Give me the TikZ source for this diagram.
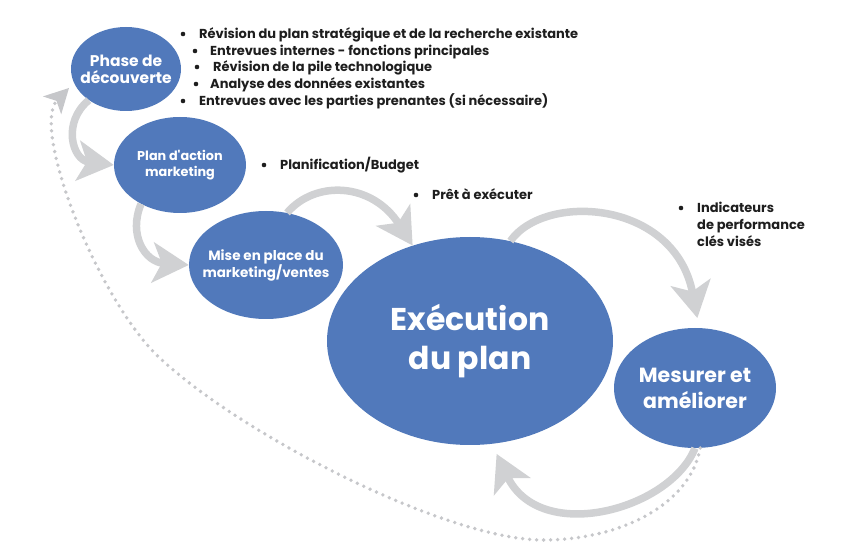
\documentclass[tikz,border=0pt]{standalone}
\usepackage{fontspec}
\setmainfont{Poppins}[Ligatures=TeXOff]
\usetikzlibrary{arrows.meta,shapes.geometric}
\definecolor{nodeblue}{RGB}{81,121,187}
\definecolor{arrowgray}{RGB}{208,209,211}
\definecolor{dotgray}{RGB}{198,199,202}
\definecolor{txt}{RGB}{30,30,30}
\begin{document}
\begin{tikzpicture}[x=1pt,y=-1pt,
 stage/.style={ellipse, fill=nodeblue, inner sep=-15pt, text=white, align=center},
 flow/.style={draw=arrowgray, line width=7.5pt, -{Stealth[length=36pt,width=40pt,inset=9pt]}},
 loopback/.style={draw=dotgray, line width=3.8pt, line cap=round, dash pattern=on 0pt off 7pt, -{Stealth[length=24pt,width=25pt,inset=6pt]}},
 item/.style={anchor=base west, text=txt, font=\fontsize{13}{17}\selectfont\bfseries, inner sep=0pt, align=left},
 dot/.style={fill=txt}
]
\useasboundingbox (0,0) rectangle (847,553);

% stages
\node[stage, minimum width=110pt, minimum height=84pt, font=\fontsize{15.5}{17}\selectfont\bfseries] (p1) at (126,69) {Phase de\\découverte};
\node[stage, minimum width=132pt, minimum height=96pt, font=\fontsize{12.8}{15.5}\selectfont\bfseries] (p2) at (180,165) {Plan d'action\\marketing};
\node[stage, minimum width=154pt, minimum height=108pt, font=\fontsize{13.5}{17}\selectfont\bfseries] (p3) at (266,265) {Mise en place du\\marketing/ventes};
\node[stage, minimum width=286pt, minimum height=208pt, font=\fontsize{31.5}{39}\selectfont\bfseries] (p4) at (470,341) {Exécution\\du plan};
\node[stage, minimum width=162pt, minimum height=120pt, font=\fontsize{20.5}{26}\selectfont\bfseries] (p5) at (695,388) {Mesurer et\\améliorer};

% flow arrows
\draw[flow] (p1.220) .. controls (62,122) and (72,160) .. (p2.west);
\draw[flow] (p2.225) .. controls (128,235) and (145,262) .. (p3.west);
\draw[flow] (p3.68) .. controls (315,180) and (372,182) .. (p4.121);
\draw[flow, shorten >=10pt] (p4.68) .. controls (545,192) and (675,200) .. (p5.86);
\draw[flow, shorten >=11pt] (p5.south) .. controls (670,510) and (540,545) .. (p4.-78);

% dotted loop back
\draw[loopback, shorten >=7pt] (p5.-85) .. controls (690,505) and (620,540) .. (543,540)
  .. controls (450,540) and (250,440) .. (163,361)
  .. controls (100,306) and (30,128) .. (p1.195);

% bullet lists
\fill[dot] (183,34) circle (2.3pt);
\node[item] (b1) at (199,38.5) {Révision du plan stratégique et de la recherche existante};
\fill[dot] (195,51) circle (2.3pt);
\node[item] (b2) at (210,55.5) {Entrevues internes - fonctions principales};
\fill[dot] (197,67) circle (2.3pt);
\node[item] (b3) at (213,71.5) {Révision de la pile technologique};
\fill[dot] (196,84) circle (2.3pt);
\node[item] (b4) at (210,88.5) {Analyse des données existantes};
\fill[dot] (183,101) circle (2.3pt);
\node[item] (b5) at (199,105.5) {Entrevues avec les parties prenantes (si nécessaire)};

\fill[dot] (264,165) circle (2.3pt);
\node[item] (b6) at (280,169.5) {Planification/Budget};
\fill[dot] (416,195) circle (2.3pt);
\node[item] (b7) at (432,199.5) {Prêt à exécuter};
\fill[dot] (681,208) circle (2.3pt);
\node[item] (b8) at (697,246.5) {Indicateurs\\de performance\\clés visés};
\end{tikzpicture}
\end{document}
